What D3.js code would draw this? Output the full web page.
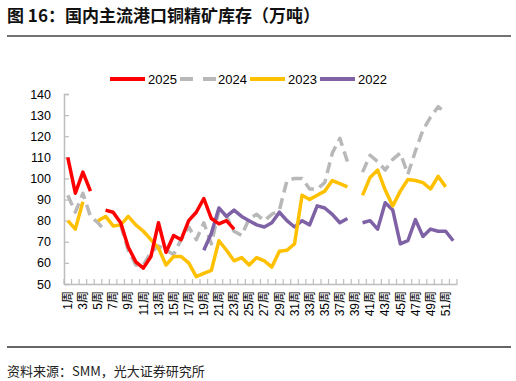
<!DOCTYPE html>
<html>
<head>
<meta charset="utf-8">
<script src="https://cdn.jsdelivr.net/npm/d3@7"></script>
<style>
  body { margin: 0; background: #fff; }
  svg { display: block; font-family: "Liberation Sans", Arial, "Noto Sans CJK SC", sans-serif; }
</style>
</head>
<body>
<div id="chart"></div>
<script>
const weeks = d3.range(1, 53);
const yTicks = [50, 60, 70, 80, 90, 100, 110, 120, 130, 140];

// 2025 (red)
const s2025 = [110, 93, 103, 94, null, 85, 84, 79, 67.5, 60.5, 57.5, 63, 79, 65, 73, 71, 80, 84, 90.5, 81, 78.5, 80, 76,
  null, null, null, null, null, null, null, null, null, null, null, null, null, null, null, null, null,
  null, null, null, null, null, null, null, null, null, null, null, null];
// 2024 (grey dashed)
const s2024 = [92, 84, 93, 82, 79, 75, null, 78, 66, 59, 59, 65, 68, 66, 64, 71, 77, 71, 79, 69, 85, 82, 75, 73, 81, 83,
  80, 83, 85, 99, 100, 100, 95, 95, 98, 112, 119, 108, null, 103, 111, 108, 104, 109, 112, 102, 113, 123, 129, 134, 131, null];
// 2023 (yellow)
const s2023 = [80, 76, 89, null, 80, 82, 77.5, 78, 82, 78, 75, 71, 67, 59, 63, 63, 60, 53.5, 55, 56.5, 70.5, 66, 61, 62.5, 59, 62.5,
  61, 58, 65.5, 66, 69, 92, 90, 92, 94, 99, 97.5, 96, null, 92, 100.5, 104, 94.5, 87, 94, 99.5, 99, 98, 95, 101, 96, null];
// 2022 (purple)
const s2022 = [null, null, null, null, null, null, null, null, null, null, null, null, null, null, null, null, null, null,
  66, 74, 86, 82, 85, 82, 80, 78, 77, 79, 84, 80, 77, 80, 78, 87, 86, 83, 79, 81, null,
  79, 80, 76, 88.5, 85, 69, 70.5, 80.5, 72.5, 76, 75, 75, 70.5];

const series = [
  { name: "2025", values: s2025, color: "#ff0000", dash: null },
  { name: "2024", values: s2024, color: "#b8b8b8", dash: "11,6" },
  { name: "2023", values: s2023, color: "#ffc000", dash: null },
  { name: "2022", values: s2022, color: "#7f62a6", dash: null }
];
const drawOrder = ["2024", "2022", "2023", "2025"];

const W = 516, H = 381;
const svg = d3.select("#chart").append("svg").attr("width", W).attr("height", H);

// title and rules
svg.append("text").attr("x", 7).attr("y", 22)
  .attr("font-family", "'Noto Sans CJK SC', sans-serif")
  .attr("font-size", 17).attr("font-weight", "bold").attr("fill", "#111")
  .text("图 16：国内主流港口铜精矿库存（万吨）");
svg.append("line").attr("x1", 7).attr("x2", 511).attr("y1", 36).attr("y2", 36)
  .attr("stroke", "#444").attr("stroke-width", 1.5);
svg.append("line").attr("x1", 7).attr("x2", 511).attr("y1", 347).attr("y2", 347)
  .attr("stroke", "#333").attr("stroke-width", 1.3);
svg.append("text").attr("x", 7).attr("y", 376)
  .attr("font-family", "'Noto Sans CJK SC', sans-serif")
  .attr("font-size", 13).attr("fill", "#222")
  .text("资料来源：SMM，光大证券研究所");

const x = d3.scaleBand().domain(weeks).range([64, 457]);
const y = d3.scaleLinear().domain([50, 140]).range([284, 94]);
const cx = w => x(w) + x.bandwidth() / 2;

// y axis
const yAxis = svg.append("g").attr("transform", "translate(64,0)")
  .call(d3.axisLeft(y).tickValues(yTicks).tickSize(-5).tickPadding(13));
yAxis.select(".domain").attr("stroke", "#bdbdbd").attr("stroke-width", 1.5);
yAxis.selectAll(".tick line").attr("stroke", "#bdbdbd").attr("stroke-width", 1.2);
yAxis.selectAll("text").attr("font-size", 12.5).attr("fill", "#000")
  .attr("font-family", "'Liberation Sans', Arial, sans-serif");

// x axis
const xAxis = svg.append("g").attr("transform", "translate(0,284)")
  .call(d3.axisBottom(x).tickValues(weeks.filter(w => w % 2 === 1)).tickSize(0).tickFormat(w => w + "周"));
xAxis.select(".domain").attr("stroke", "#bdbdbd").attr("stroke-width", 1.5);
xAxis.selectAll("text")
  .attr("font-size", 12).attr("fill", "#000")
  .attr("font-family", "'Liberation Sans', Arial, 'Noto Sans CJK SC', sans-serif")
  .attr("text-anchor", "end")
  .attr("transform", "rotate(-90)")
  .attr("x", -7).attr("y", 0).attr("dy", "0.35em");
svg.append("g").selectAll("line")
  .data(weeks.concat([53]))
  .join("line")
  .attr("x1", w => w <= 52 ? x(w) : x(52) + x.bandwidth())
  .attr("x2", w => w <= 52 ? x(w) : x(52) + x.bandwidth())
  .attr("y1", 284).attr("y2", 279)
  .attr("stroke", "#bdbdbd").attr("stroke-width", 1.2);

// lines
const line = d3.line()
  .defined(d => d.v != null)
  .x(d => cx(d.w))
  .y(d => y(d.v));

svg.append("g").selectAll("path")
  .data(drawOrder.map(n => series.find(s => s.name === n)))
  .join("path")
  .attr("d", s => line(s.values.map((v, i) => ({ w: weeks[i], v }))))
  .attr("fill", "none")
  .attr("stroke", s => s.color)
  .attr("stroke-width", 3.5)
  .attr("stroke-linejoin", "round")
  .attr("stroke-dasharray", s => s.dash);

// legend
const legend = svg.append("g").selectAll("g")
  .data(series)
  .join("g")
  .attr("transform", (d, i) => `translate(${110 + i * 70},79)`);
legend.append("line")
  .attr("x1", 0).attr("x2", d => d.dash ? 37 : 35).attr("y1", 0).attr("y2", 0)
  .attr("stroke", d => d.color).attr("stroke-width", 4)
  .attr("stroke-dasharray", d => d.dash ? "13,10" : null);
legend.append("text")
  .attr("x", 38).attr("y", 4.5)
  .attr("font-size", 13).attr("fill", "#000")
  .text(d => d.name);
</script>
</body>
</html>
